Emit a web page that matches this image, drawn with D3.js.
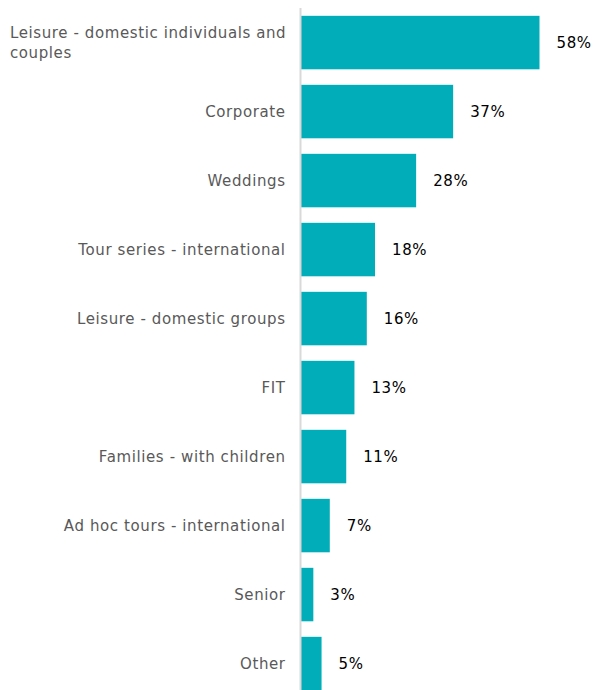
<!DOCTYPE html>
<html><head><meta charset="utf-8">
<script src="https://cdn.jsdelivr.net/npm/d3@7"></script>
<style>body{margin:0;background:#fff}svg{display:block}</style>
</head><body>
<script>
const categories = ["Leisure - domestic individuals and couples","Corporate","Weddings","Tour series - international","Leisure - domestic groups","FIT","Families - with children","Ad hoc tours - international","Senior","Other"];
const values = [58,37,28,18,16,13,11,7,3,5];

const W = 594, H = 690, axisX = 300.5;
const svg = d3.select("body").append("svg").attr("width", W).attr("height", H);
const x = d3.scaleLinear().domain([0, 58]).range([axisX + 0.5, 539.5]);
const y = d3.scaleBand().domain(categories).range([0.3, 0.3 + 69 * 10.225]).paddingInner(0.225).paddingOuter(0.225);
const font = "Verdana, 'DejaVu Sans', sans-serif";
const ls = 0.6;

svg.selectAll("rect.bar").data(values).join("rect")
  .attr("x", x(0)).attr("y", (d,i) => y(categories[i]))
  .attr("width", d => x(d) - x(0)).attr("height", y.bandwidth())
  .attr("fill", "#00ADB9");

svg.append("line").attr("x1", axisX).attr("x2", axisX).attr("y1", 8).attr("y2", H)
  .attr("stroke", "#d9d9d9").attr("stroke-width", 2);

svg.selectAll("text.val").data(values).join("text")
  .attr("x", d => x(d) + 17).attr("y", (d,i) => y(categories[i]) + y.bandwidth()/2)
  .attr("dy", "0.35em").attr("font-family", font).attr("font-size", 15).attr("letter-spacing", ls).attr("fill", "#000")
  .text(d => d + "%");

const maxW = 280;
categories.forEach((c, i) => {
  const t = svg.append("text").attr("x", 285).attr("text-anchor", "end")
    .attr("font-family", font).attr("font-size", 15).attr("letter-spacing", ls).attr("fill", "#595959");
  const words = c.split(" ");
  let lines = [], cur = [];
  const probe = svg.append("text").attr("font-family", font).attr("font-size", 15).attr("letter-spacing", ls);
  words.forEach(w => {
    const test = cur.concat([w]).join(" ");
    probe.text(test);
    if (probe.node().getComputedTextLength() > maxW && cur.length) { lines.push(cur.join(" ")); cur = [w]; }
    else cur.push(w);
  });
  lines.push(cur.join(" "));
  probe.remove();
  const cy = y(c) + y.bandwidth()/2, lh = 20;
  if (lines.length > 1) t.attr("text-anchor", "start");
  lines.forEach((l, k) => {
    t.append("tspan").attr("x", lines.length > 1 ? 10 : 285 + ls)
      .attr("y", cy + (k - (lines.length-1)/2) * lh).attr("dy", "0.35em").text(l);
  });
});
</script>
</body></html>
